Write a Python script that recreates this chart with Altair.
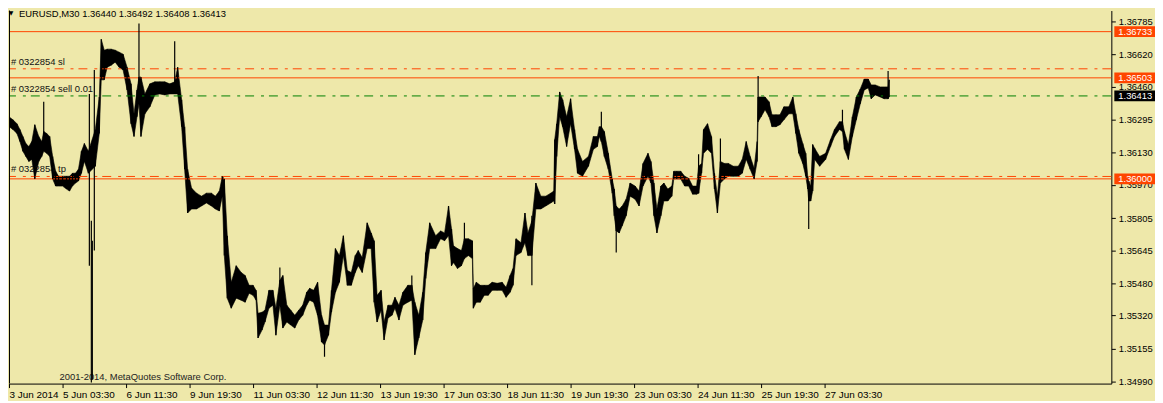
import json
import altair as alt
import pandas as pd

FONT = "Liberation Sans"

# ---- price series (M30 bars, sampled): bar number, high, low ----
bar = [5, 7, 10, 14, 18, 21, 24, 27, 30, 33, 36, 40, 43, 45, 48, 51, 54, 57, 60, 64,
       68, 71, 74, 77, 80, 83, 86, 90, 97, 101, 103, 106, 109, 113, 117, 121, 125, 129, 133, 136,
       139, 141, 143, 147, 152, 157, 162, 167, 172, 177, 180, 184, 187, 190, 194, 199, 204, 209, 214, 218,
       222, 225, 227, 230, 234, 239, 244, 248, 252, 256, 259, 261, 265, 268, 272, 276, 279, 283, 286, 290,
       294, 298, 302, 306, 310, 313, 317, 321, 325, 328, 332, 335, 339, 343, 347, 351, 355, 359, 362, 366,
       371, 375, 378, 381, 385, 388, 392, 396, 399, 403, 407, 412, 416, 419, 423, 427, 430, 434, 440, 445,
       449, 453, 456, 458, 462, 466, 469, 473, 477, 478, 481, 485, 489, 493, 497, 502, 507, 511, 515, 518,
       521, 526, 530, 533, 537, 541, 546, 551, 556, 559, 560, 562, 565, 568, 572, 576, 580, 583, 588, 594,
       599, 603, 605, 607, 610, 614, 618, 620, 622, 625, 628, 632, 636, 641, 645, 649, 654, 657, 660, 663,
       667, 670, 674, 678, 680, 683, 687, 691, 695, 699, 703, 705, 708, 710, 714, 718, 721, 724, 727, 731,
       735, 740, 745, 749, 753, 757, 761, 764, 765, 768, 772, 776, 779, 783, 787, 791, 796, 800, 803, 806,
       810, 813, 815, 816, 818, 820, 822, 827, 833, 838, 842, 847, 850, 852, 856, 860, 864, 868, 872, 876,
       879, 883, 888, 892, 896, 897]
high = [1.36324, 1.36334, 1.36309, 1.36294, 1.36275, 1.36246, 1.36211, 1.36176, 1.36161, 1.36186,
        1.36270, 1.36211, 1.36186, 1.36236, 1.36226, 1.36211, 1.36112, 1.36038, 1.36013, 1.36013,
        1.36013, 1.36013, 1.36028, 1.36028, 1.36048, 1.36137, 1.36176, 1.36137, 1.36246, 1.36408,
        1.36695, 1.36641, 1.36646, 1.36646, 1.36641, 1.36631, 1.36621, 1.36556, 1.36473, 1.36324,
        1.36443, 1.36507, 1.36507, 1.36423, 1.36473, 1.36483, 1.36483, 1.36483, 1.36473, 1.36483,
        1.36556, 1.36394, 1.36260, 1.36048, 1.35954, 1.35929, 1.35914, 1.35929, 1.35929, 1.35914,
        1.35939, 1.36013, 1.35999, 1.35717, 1.35485, 1.35568, 1.35534, 1.35519, 1.35470, 1.35470,
        1.35445, 1.35331, 1.35336, 1.35346, 1.35445, 1.35445, 1.35356, 1.35495, 1.35519, 1.35371,
        1.35346, 1.35321, 1.35346, 1.35371, 1.35435, 1.35455, 1.35445, 1.35485, 1.35321, 1.35272,
        1.35272, 1.35445, 1.35653, 1.35618, 1.35717, 1.35544, 1.35534, 1.35618, 1.35643, 1.35608,
        1.35781, 1.35731, 1.35692, 1.35420, 1.35445, 1.35287, 1.35371, 1.35371, 1.35410, 1.35371,
        1.35435, 1.35470, 1.35470, 1.35386, 1.35321, 1.35435, 1.35633, 1.35781, 1.35717, 1.35741,
        1.35731, 1.35865, 1.35751, 1.35667, 1.35653, 1.35643, 1.35702, 1.35702, 1.35692, 1.35455,
        1.35485, 1.35470, 1.35470, 1.35470, 1.35485, 1.35480, 1.35485, 1.35460, 1.35519, 1.35554,
        1.35702, 1.35682, 1.35830, 1.35731, 1.35791, 1.35979, 1.35914, 1.35914, 1.35929, 1.35939,
        1.36196, 1.36275, 1.36433, 1.36394, 1.36309, 1.36399, 1.36246, 1.36147, 1.36087, 1.36112,
        1.36211, 1.36211, 1.36260, 1.36260, 1.36236, 1.36127, 1.35999, 1.35949, 1.35865, 1.35850,
        1.35865, 1.35899, 1.35979, 1.35964, 1.35939, 1.36077, 1.36127, 1.36087, 1.35979, 1.35850,
        1.35964, 1.35979, 1.35949, 1.35964, 1.36038, 1.36038, 1.36038, 1.36013, 1.36003, 1.35964,
        1.35964, 1.36063, 1.36077, 1.36246, 1.36275, 1.36211, 1.36028, 1.35914, 1.36087, 1.36077,
        1.36077, 1.36063, 1.36063, 1.36097, 1.36186, 1.36112, 1.36053, 1.36186, 1.36408, 1.36408,
        1.36408, 1.36384, 1.36319, 1.36319, 1.36319, 1.36359, 1.36359, 1.36408, 1.36324, 1.36246,
        1.36176, 1.36127, 1.36013, 1.35989, 1.35964, 1.36171, 1.36152, 1.36112, 1.36127, 1.36196,
        1.36246, 1.36285, 1.36285, 1.36236, 1.36171, 1.36309, 1.36408, 1.36448, 1.36497, 1.36497,
        1.36468, 1.36468, 1.36458, 1.36458, 1.36458, 1.36493]
low = [1.36275, 1.36285, 1.36260, 1.36246, 1.36226, 1.36186, 1.36137, 1.36112, 1.36087, 1.36097,
       1.35999, 1.36087, 1.36112, 1.36137, 1.36127, 1.36112, 1.35999, 1.35964, 1.35964, 1.35964,
       1.35949, 1.35939, 1.35964, 1.35979, 1.35989, 1.36028, 1.36087, 1.36028, 1.36063, 1.36226,
       1.36493, 1.36493, 1.36556, 1.36566, 1.36581, 1.36556, 1.36542, 1.36443, 1.36275, 1.36211,
       1.36309, 1.36374, 1.36211, 1.36324, 1.36359, 1.36418, 1.36423, 1.36418, 1.36423, 1.36423,
       1.36423, 1.36260, 1.36048, 1.35830, 1.35850, 1.35850, 1.35865, 1.35880, 1.35865, 1.35850,
       1.35840, 1.35914, 1.35618, 1.35406, 1.35356, 1.35406, 1.35396, 1.35386, 1.35430, 1.35420,
       1.35396, 1.35208, 1.35247, 1.35287, 1.35356, 1.35371, 1.35222, 1.35371, 1.35257, 1.35287,
       1.35272, 1.35257, 1.35297, 1.35321, 1.35371, 1.35396, 1.35386, 1.35321, 1.35188, 1.35173,
       1.35222, 1.35336, 1.35435, 1.35485, 1.35618, 1.35470, 1.35470, 1.35534, 1.35568, 1.35534,
       1.35653, 1.35653, 1.35386, 1.35287, 1.35346, 1.35198, 1.35307, 1.35321, 1.35356, 1.35297,
       1.35371, 1.35386, 1.35396, 1.35124, 1.35208, 1.35297, 1.35504, 1.35653, 1.35653, 1.35702,
       1.35692, 1.35717, 1.35568, 1.35583, 1.35554, 1.35568, 1.35603, 1.35618, 1.35603, 1.35356,
       1.35386, 1.35386, 1.35420, 1.35420, 1.35445, 1.35445, 1.35445, 1.35410, 1.35435, 1.35470,
       1.35618, 1.35633, 1.35682, 1.35618, 1.35618, 1.35850, 1.35850, 1.35865, 1.35880, 1.35890,
       1.35875, 1.36112, 1.36309, 1.36260, 1.36161, 1.36275, 1.36147, 1.36028, 1.36013, 1.36063,
       1.36147, 1.36161, 1.36211, 1.36186, 1.36112, 1.36048, 1.35929, 1.35816, 1.35741, 1.35731,
       1.35766, 1.35816, 1.35914, 1.35899, 1.35865, 1.35964, 1.36013, 1.35979, 1.35816, 1.35731,
       1.35816, 1.35890, 1.35890, 1.35914, 1.35999, 1.35999, 1.35999, 1.35964, 1.35964, 1.35924,
       1.35924, 1.35929, 1.36028, 1.36127, 1.36147, 1.36127, 1.35949, 1.35830, 1.35979, 1.35999,
       1.36013, 1.36013, 1.36013, 1.36028, 1.36097, 1.36048, 1.35999, 1.36087, 1.36285, 1.36309,
       1.36344, 1.36309, 1.36260, 1.36260, 1.36270, 1.36294, 1.36324, 1.36324, 1.36226, 1.36127,
       1.36077, 1.36013, 1.35949, 1.35890, 1.35890, 1.35939, 1.36097, 1.36063, 1.36097, 1.36161,
       1.36211, 1.36246, 1.36236, 1.36147, 1.36097, 1.36211, 1.36294, 1.36374, 1.36443, 1.36453,
       1.36399, 1.36418, 1.36408, 1.36399, 1.36399, 1.36408]

# long single-bar wicks
wick_bar = [45, 91, 93, 94, 96, 141, 177, 283, 328, 416, 469, 537, 607, 622, 705, 727, 765, 816, 850, 896]
wick_high = [1.36384, 1.36423, 1.35791, 1.35692, 1.36542, 1.36774, 1.36685, 1.35559, 1.35272, 1.35519,
             1.35781, 1.35816, 1.36334, 1.35865, 1.36122, 1.36201, 1.36512, 1.35989, 1.36344, 1.36537]
wick_low = [1.36137, 1.35568, 1.34986, 1.35001, 1.35643, 1.36374, 1.36423, 1.35371, 1.35114, 1.35396,
            1.35603, 1.35470, 1.36186, 1.35633, 1.35929, 1.35979, 1.36285, 1.35751, 1.36236, 1.36399]

# horizontal levels
solid_levels = [1.36733, 1.36503, 1.36000]
order_levels = [1.36548, 1.36413, 1.36012]
order_colors = ["#FF4500", "#008000", "#FF4500"]
order_labels = ["#  0322854 sl", "#  0322854 sell 0.01", "#  0322854 tp"]
box_levels = [1.36733, 1.36503, 1.36000, 1.36413]
box_colors = ["#FF4500", "#FF4500", "#FF4500", "#000000"]

# axes
price_ticks = [1.36785, 1.36620, 1.36460, 1.36295, 1.36130, 1.35970, 1.35805,
               1.35645, 1.35480, 1.35320, 1.35155, 1.34990]
time_ticks = [10, 64, 128, 192, 256, 320, 384, 448, 512, 576, 640, 704, 768, 832]
time_labels = ["3 Jun 2014", "5 Jun 03:30", "6 Jun 11:30", "9 Jun 19:30", "11 Jun 03:30",
               "12 Jun 11:30", "13 Jun 19:30", "17 Jun 03:30", "18 Jun 11:30", "19 Jun 19:30",
               "23 Jun 03:30", "24 Jun 11:30", "25 Jun 19:30", "27 Jun 03:30"]
title_text = "EURUSD,M30  1.36440 1.36492 1.36408 1.36413"
copyright_text = "2001-2014, MetaQuotes Software Corp."

W, H = 1111, 376
BG = "#EEE8AA"

df = pd.DataFrame({"bar": bar, "high": high, "low": low})
dw = pd.DataFrame({"bar": wick_bar, "high": wick_high, "low": wick_low})
dsolid = pd.DataFrame({"level": solid_levels})
dorder = pd.DataFrame({"level": order_levels, "color": order_colors, "label": order_labels})
dbox = pd.DataFrame({"level": box_levels, "color": box_colors})

xs = alt.Scale(domain=[10, 1121], nice=False, zero=False)
ys = alt.Scale(domain=[1.349807, 1.368382], nice=False, zero=False)

label_expr = f"' ' + {json.dumps(time_labels)}[indexof({json.dumps(time_ticks)}, datum.value)]"

x_axis = alt.Axis(values=time_ticks, labelExpr=label_expr, orient="bottom", title=None, grid=False,
                  tickSize=4, tickColor="black", domainColor="black", labelColor="black",
                  labelFont=FONT, labelFontSize=10, labelAlign="left", labelBaseline="top",
                  labelPadding=2, labelFlush=False, labelOverlap=False)
y_axis = alt.Axis(values=price_ticks, format=".5f", orient="right", title=None, grid=False,
                  tickSize=4, tickColor="black", domainColor="black", labelColor="black",
                  labelFont=FONT, labelFontSize=9.5, labelPadding=3, labelOverlap=False,
                  labelFlush=False)


def X(field):
    return alt.X(field, scale=xs, axis=x_axis)


def Y(field):
    return alt.Y(field, scale=ys, axis=y_axis)


area = alt.Chart(df).mark_area(color="black", stroke="black", strokeWidth=0.6,
                               interpolate="linear", clip=True).encode(
    x=X("bar:Q"), y=Y("high:Q"), y2="low:Q")
bars = alt.Chart(df).mark_rule(color="black", strokeWidth=1.2, clip=True).encode(
    x=X("bar:Q"), y=Y("high:Q"), y2="low:Q")
wicks = alt.Chart(dw).mark_rule(color="black", strokeWidth=1.2, clip=True).encode(
    x=X("bar:Q"), y=Y("high:Q"), y2="low:Q")

solid = alt.Chart(dsolid).mark_rule(color="#FF4500", strokeWidth=1).encode(y=Y("level:Q"))
orders = alt.Chart(dorder).mark_rule(strokeWidth=1, strokeDash=[9, 5, 3, 7]).encode(
    y=Y("level:Q"), color=alt.Color("color:N", scale=None, legend=None))
order_text = alt.Chart(dorder).mark_text(align="left", baseline="middle", dy=-7,
                                         font=FONT, fontSize=9.5, color="#111111").encode(
    x=alt.value(2), y=Y("level:Q"), text="label:N")

boxes = alt.Chart(dbox).transform_calculate(
    top="datum.level + 0.00027", bot="datum.level - 0.00027"
).mark_rect().encode(
    x=alt.value(W + 3), x2=alt.value(W + 44),
    y=Y("top:Q"), y2="bot:Q",
    color=alt.Color("color:N", scale=None, legend=None))
box_text = alt.Chart(dbox).mark_text(align="left", baseline="middle", font=FONT,
                                     fontSize=9.5, color="white").encode(
    x=alt.value(W + 7), y=Y("level:Q"),
    text=alt.Text("level:Q", format=".5f"))

dtitle = pd.DataFrame({"t": [title_text]})
title = alt.Chart(dtitle).mark_text(align="left", baseline="middle", font=FONT,
                                    fontSize=9.5, color="black").encode(
    x=alt.value(10), y=alt.value(4), text="t:N")
tri = alt.Chart(pd.DataFrame({"t": ["▼"]})).mark_text(align="center", baseline="middle",
                                                      font="DejaVu Sans", fontSize=6,
                                                      color="black").encode(
    x=alt.value(2), y=alt.value(3), text="t:N")
dcopy = pd.DataFrame({"t": [copyright_text]})
copyright = alt.Chart(dcopy).mark_text(align="left", baseline="middle", font=FONT,
                                       fontSize=9.5, color="#222222").encode(
    x=alt.value(51), y=alt.value(369), text="t:N")
left_edge = alt.Chart(dtitle).mark_rule(color="black", strokeWidth=1).encode(
    x=alt.value(0.5), y=alt.value(0), y2=alt.value(H))

chart = alt.layer(
    area, order_text, copyright, solid, orders, bars, wicks, left_edge,
    boxes, box_text, title, tri
).properties(width=W, height=H, background=BG, padding=0).configure_view(stroke=None)

chart.save("out.html", embed_options={"renderer": "svg", "actions": False})
